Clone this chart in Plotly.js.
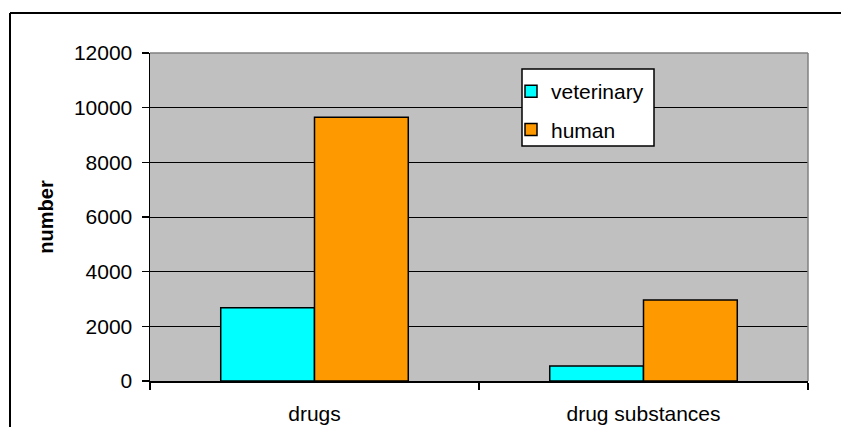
<!DOCTYPE html>
<html>
<head>
<meta charset="utf-8">
<script src="https://cdn.plot.ly/plotly-3.0.1.min.js"></script>
<style>
html,body{margin:0;padding:0;background:#fff;}
#chart{width:841px;height:427px;}
</style>
</head>
<body>
<div id="chart"></div>
<script>
const categories = ["drugs", "drug substances"];
const veterinary = [2680, 550];
const human = [9650, 2960];
const yTicks = [0, 2000, 4000, 6000, 8000, 10000, 12000];

const W = 841, H = 427;
const m = {l: 150, r: 33, t: 53, b: 46};
const pw = W - m.l - m.r, ph = H - m.t - m.b;
const px = x => (x - m.l) / pw;
const py = y => (H - m.b - y) / ph;

const font = "Liberation Sans, Arial, sans-serif";
const fs = 21;

const traces = [
  {type: "bar", name: "veterinary", x: categories, y: veterinary, legendgroup: "a",
   marker: {color: "#00FFFF", line: {color: "#000", width: 1.5}}},
  {type: "bar", name: "human", x: categories, y: human, legendgroup: "b",
   marker: {color: "#FF9900", line: {color: "#000", width: 1.5}}}
];

const layout = {
  width: W, height: H,
  margin: m,
  paper_bgcolor: "#fff",
  plot_bgcolor: "#C0C0C0",
  barmode: "group",
  bargap: 0.43,
  bargroupgap: 0,
  font: {family: font, size: fs, color: "#000"},
  showlegend: true,
  legend: {
    x: px(511), y: py(71), xanchor: "left", yanchor: "top",
    bgcolor: "rgba(0,0,0,0)", borderwidth: 0,
    font: {family: font, size: fs, color: "#000"},
    itemwidth: 30, tracegroupgap: 8
  },
  xaxis: {
    type: "category",
    showline: true, linecolor: "#000", linewidth: 1.5,
    ticks: "outside", tickson: "boundaries", ticklen: 7, tickcolor: "#000", tickwidth: 1.5,
    showgrid: false, zeroline: false,
    tickfont: {family: font, size: fs, color: "#000"},
    ticklabelstandoff: 13
  },
  yaxis: {
    range: [0, 12000],
    tickvals: yTicks,
    ticktext: yTicks.map(String),
    showline: true, linecolor: "#000", linewidth: 1.5,
    ticks: "outside", ticklen: 7, tickcolor: "#000", tickwidth: 1.5,
    showgrid: true, gridcolor: "#000", gridwidth: 1,
    zeroline: false,
    tickfont: {family: font, size: fs, color: "#000"},
    ticklabelstandoff: 5,
    title: {text: "number", font: {family: font, size: 20, color: "#000", weight: "bold"}, standoff: 15}
  },
  shapes: [
    {type: "line", xref: "paper", yref: "paper", x0: 0, x1: 1, y0: 1, y1: 1, line: {color: "#808080", width: 1.5}},
    {type: "line", xref: "paper", yref: "paper", x0: 1, x1: 1, y0: 0, y1: 1, line: {color: "#808080", width: 1.5}},
    {type: "rect", xref: "paper", yref: "paper", layer: "above",
     x0: px(522), x1: px(654), y0: py(146), y1: py(69),
     fillcolor: "#fff", line: {color: "#000", width: 1.5}},
    {type: "line", xref: "paper", yref: "paper", x0: px(10), x1: px(10), y0: py(13), y1: py(440), line: {color: "#000", width: 2}},
    {type: "line", xref: "paper", yref: "paper", x0: px(10), x1: px(850), y0: py(13), y1: py(13), line: {color: "#000", width: 2}}
  ]
};

Plotly.newPlot("chart", traces, layout, {displayModeBar: false, staticPlot: true});
</script>
</body>
</html>
